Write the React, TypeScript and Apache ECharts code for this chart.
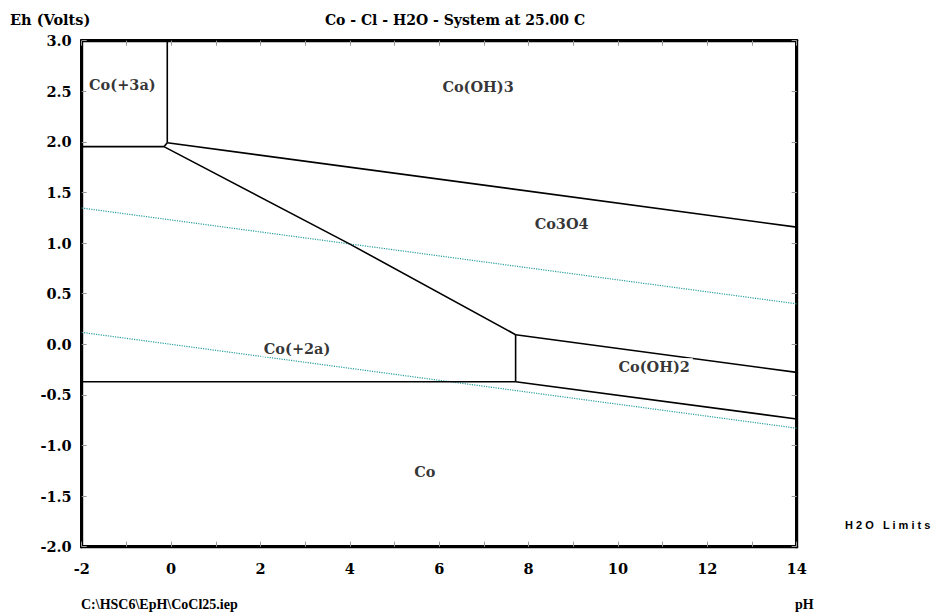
import React, { useEffect, useRef } from "react";
import * as echarts from "echarts";

// Phase boundaries [pH, Eh]
const co3aCo3Vertical: number[][] = [[-0.085, 3.0], [-0.085, 1.992]];
const co3aCo2aHorizontal: number[][] = [[-2, 1.953], [-0.16, 1.953]];
const triplePointLink: number[][] = [[-0.16, 1.953], [-0.085, 1.992]];
const coOH3Co3O4: number[][] = [[-0.085, 1.992], [14, 1.158]];
const co3o4Co2a: number[][] = [[-0.16, 1.953], [3.96, 1.0], [7.71, 0.095]];
const co2aCoOH2Vertical: number[][] = [[7.71, 0.095], [7.71, -0.37]];
const co3o4CoOH2: number[][] = [[7.71, 0.095], [14, -0.277]];
const co2aCo: number[][] = [[-2, -0.37], [7.71, -0.37]];
const coOH2Co: number[][] = [[7.71, -0.37], [14, -0.738]];

// Water stability limits
const o2Limit: number[][] = [[-2, 1.347], [14, 0.4]];
const h2Limit: number[][] = [[-2, 0.118], [14, -0.829]];

// Region labels [pH, Eh, name]
const regionLabels: [number, number, string][] = [
  [-1.09, 2.57, "Co(+3a)"],
  [6.87, 2.55, "Co(OH)3"],
  [8.74, 1.19, "Co3O4"],
  [2.82, -0.04, "Co(+2a)"],
  [10.81, -0.22, "Co(OH)2"],
  [5.68, -1.26, "Co"],
];

const xMin = -2;
const xMax = 14;
const yMin = -2;
const yMax = 3;

const SERIF = "'DejaVu Serif', 'Liberation Serif', serif";
const TIMES = "'Liberation Serif', 'Times New Roman', serif";
const SANS = "'Liberation Sans', Arial, sans-serif";
const FS = 14.5;

export default function App() {
  const ref = useRef<HTMLDivElement>(null);
  useEffect(() => {
    document.body.style.margin = "0";
    const chart = echarts.init(ref.current!, null, { renderer: "svg" });
    const boundary = (data: number[][]) => ({
      type: "line",
      data,
      showSymbol: false,
      symbol: "none",
      lineStyle: { color: "#000", width: 1.6 },
      z: 3,
      silent: true,
    });
    const water = (data: number[][]) => ({
      type: "line",
      data,
      showSymbol: false,
      symbol: "none",
      lineStyle: { color: "#2a9d9d", width: 1.2, type: "dotted" },
      z: 2,
      silent: true,
    });
    const axisLine = { show: true, onZero: false, lineStyle: { color: "#000", width: 3 } };
    const axisTick = { show: true, inside: true, length: 5, lineStyle: { color: "#999", width: 1 } };
    chart.setOption({
      animation: false,
      backgroundColor: "#fff",
      grid: {
        left: 81.7,
        right: 137.3,
        top: 40.7,
        bottom: 67.3,
        containLabel: false,
        show: true,
        borderColor: "#000",
        borderWidth: 3,
        backgroundColor: "transparent",
      },
      xAxis: [
        {
          type: "value",
          min: xMin,
          max: xMax,
          interval: 1,
          position: "bottom",
          axisLine,
          axisTick,
          splitLine: { show: false },
          axisLabel: {
            margin: 14,
            fontFamily: SERIF,
            fontWeight: "bold",
            fontSize: FS,
            color: "#000",
            formatter: (v: number) => (Math.round(v) % 2 === 0 ? String(v) : ""),
          },
        },
        {
          type: "value",
          min: xMin,
          max: xMax,
          interval: 1,
          position: "top",
          axisLine,
          axisTick,
          splitLine: { show: false },
          axisLabel: { show: false },
        },
      ],
      yAxis: [
        {
          type: "value",
          min: yMin,
          max: yMax,
          interval: 0.5,
          position: "left",
          axisLine,
          axisTick,
          splitLine: { show: false },
          axisLabel: {
            margin: 10,
            fontFamily: SERIF,
            fontWeight: "bold",
            fontSize: FS,
            color: "#000",
            formatter: (v: number) => v.toFixed(1),
          },
        },
        {
          type: "value",
          min: yMin,
          max: yMax,
          interval: 0.5,
          position: "right",
          axisLine,
          axisTick,
          splitLine: { show: false },
          axisLabel: { show: false },
        },
      ],
      series: [
        water(o2Limit),
        water(h2Limit),
        boundary(co3aCo3Vertical),
        boundary(co3aCo2aHorizontal),
        boundary(triplePointLink),
        boundary(coOH3Co3O4),
        boundary(co3o4Co2a),
        boundary(co2aCoOH2Vertical),
        boundary(co3o4CoOH2),
        boundary(co2aCo),
        boundary(coOH2Co),
        {
          type: "scatter",
          data: regionLabels.map((r) => ({ value: [r[0], r[1]], name: r[2] })),
          symbolSize: 0,
          z: 10,
          silent: true,
          label: {
            show: true,
            position: "inside",
            formatter: (p: any) => p.name,
            fontFamily: SERIF,
            fontWeight: "bold",
            fontSize: FS,
            color: "#000",
            backgroundColor: "#fff",
            padding: [1, 3],
          },
        },
      ],
      graphic: [
        {
          type: "text",
          left: 10,
          top: 12,
          style: { text: "Eh (Volts)", font: `bold ${FS}px ${SERIF}`, fill: "#000" },
        },
        {
          type: "text",
          x: 455,
          y: 20,
          style: {
            text: "Co - Cl - H2O - System at 25.00 C",
            font: `bold 14px ${SERIF}`,
            fill: "#000",
            align: "center",
            verticalAlign: "middle",
          },
        },
        {
          type: "text",
          x: 845,
          y: 525,
          style: {
            text: "H 2 O   L i m i t s",
            font: `bold 11px ${SANS}`,
            fill: "#000",
            verticalAlign: "middle",
          },
        },
        {
          type: "text",
          x: 81,
          y: 604,
          style: {
            text: "C:\\HSC6\\EpH\\CoCl25.iep",
            font: `bold 14px ${TIMES}`,
            fill: "#000",
            verticalAlign: "middle",
          },
        },
        {
          type: "text",
          x: 795,
          y: 604,
          style: {
            text: "pH",
            font: `bold 14px ${TIMES}`,
            fill: "#000",
            verticalAlign: "middle",
          },
        },
      ],
    });
    return () => chart.dispose();
  }, []);
  return (
    <div
      ref={ref}
      style={{ width: 934, height: 614, position: "absolute", left: 0, top: 0 }}
    />
  );
}
